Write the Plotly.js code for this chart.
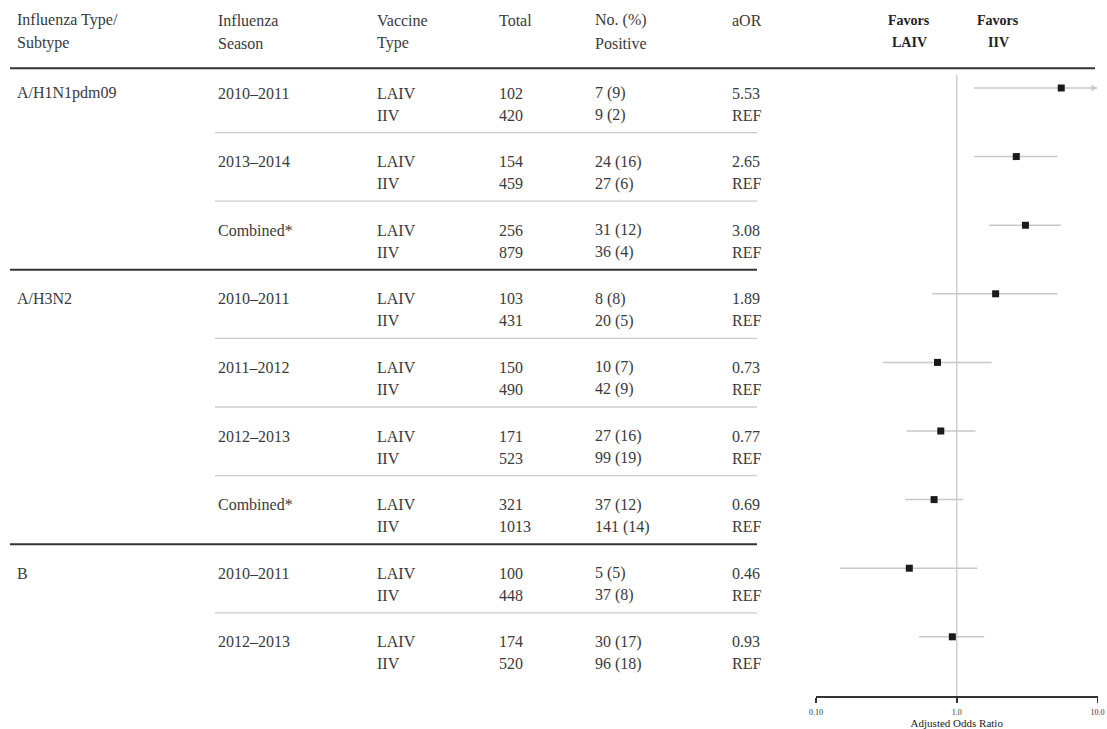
<!DOCTYPE html>
<html>
<head>
<meta charset="utf-8">
<script src="https://cdn.plot.ly/plotly-3.0.1.min.js"></script>
<style>html,body{margin:0;padding:0;background:#fff;}#chart{width:1107px;height:729px;}</style>
</head>
<body>
<div id="chart"></div>
<script>
// ---- data ----
const groupNames = ['A/H1N1pdm09', '', '', 'A/H3N2', '', '', '', 'B', ''];
const seasons = ['2010\u20132011', '2013\u20132014', 'Combined*', '2010\u20132011', '2011\u20132012', '2012\u20132013', 'Combined*', '2010\u20132011', '2012\u20132013'];
const vaccineTypes = ['LAIV', 'IIV'];
const laivTotal = [102, 154, 256, 103, 150, 171, 321, 100, 174];
const iivTotal = [420, 459, 879, 431, 490, 523, 1013, 448, 520];
const laivPos = [7, 24, 31, 8, 10, 27, 37, 5, 30];
const laivPct = [9, 16, 12, 8, 7, 16, 12, 5, 17];
const iivPos = [9, 27, 36, 20, 42, 99, 141, 37, 96];
const iivPct = [2, 6, 4, 5, 9, 19, 14, 8, 18];
const aOR = [5.53, 2.65, 3.08, 1.89, 0.73, 0.77, 0.69, 0.46, 0.93];
const ciLow = [1.33, 1.33, 1.70, 0.67, 0.30, 0.44, 0.43, 0.148, 0.54];
const ciHigh = [14.0, 5.2, 5.5, 5.2, 1.77, 1.36, 1.11, 1.40, 1.57];
const headers = [['Influenza Type/', 'Subtype'], ['Influenza', 'Season'], ['Vaccine', 'Type'], ['Total', ''], ['No. (%)', 'Positive'], ['aOR', '']];
const tickVals = [0.1, 1, 10];
const tickText = ['0.10', '1.0', '10.0'];
const axisTitle = 'Adjusted Odds Ratio';
const favors = [['Favors', 'LAIV'], ['Favors', 'IIV']];
const groupEnds = [2, 6]; // blocks after which a heavy rule is drawn

// ---- layout constants ----
const W = 1107, H = 729;
const rowTop = 88, rowStep = 68.6;
const pxToV = px => (px - rowTop) / rowStep;
const colX = [15, 216, 375, 497, 593, 730].map(x => x / W);
const font = {family: 'Liberation Serif, Times New Roman, serif', size: 16, color: '#3a3a3a'};
const n = aOR.length;
const rowIdx = aOR.map((_, i) => i);

const annotations = [];
const addText = (x, v, text, extra) => annotations.push(Object.assign({
  xref: 'paper', yref: 'y', x: x, y: v, text: text, showarrow: false,
  xanchor: 'left', yanchor: 'middle', font: font
}, extra || {}));

// headers
headers.forEach((h, c) => {
  addText(colX[c], pxToV(20), h[0]);
  if (h[1]) addText(colX[c], pxToV(43), h[1]);
});
// favors labels
const favX = [909 / W, 998 / W];
favors.forEach((f, k) => {
  const ff = {family: font.family, size: 14, color: '#222', weight: 'bold'};
  addText(favX[k], pxToV(20), '<b>' + f[0] + '</b>', {xanchor: 'center', font: ff});
  addText(favX[k], pxToV(42), '<b>' + f[1] + '</b>', {xanchor: 'center', font: ff});
});
// body rows
const dL = 5 / rowStep, dI = 27 / rowStep;
for (let i = 0; i < n; i++) {
  if (groupNames[i]) addText(colX[0], i + dL, groupNames[i]);
  addText(colX[1], i + dL, seasons[i]);
  addText(colX[2], i + dL, vaccineTypes[0]);
  addText(colX[2], i + dI, vaccineTypes[1]);
  addText(colX[3], i + dL, String(laivTotal[i]));
  addText(colX[3], i + dI, String(iivTotal[i]));
  addText(colX[4], i + dL, laivPos[i] + ' (' + laivPct[i] + ')');
  addText(colX[4], i + dI, iivPos[i] + ' (' + iivPct[i] + ')');
  addText(colX[5], i + dL, aOR[i].toFixed(2));
  addText(colX[5], i + dI, 'REF');
}
// arrow for CIs running off the scale
const xMax = tickVals[tickVals.length - 1];
ciHigh.forEach((hi, i) => {
  if (hi > xMax) annotations.push({
    xref: 'x', yref: 'y', x: Math.log10(xMax), y: i, ax: -9, ay: 0, text: '',
    showarrow: true, arrowhead: 2, arrowsize: 0.9, arrowwidth: 1.3, arrowcolor: '#c8c8c8', standoff: 0
  });
});

// rules
const shapes = [];
const hline = (x0, x1, v, color, w) => shapes.push({type: 'line', xref: 'paper', yref: 'y',
  x0: x0 / W, x1: x1 / W, y0: v, y1: v, line: {color: color, width: w}});
hline(10, 1095, pxToV(68.3), '#333333', 2);
for (let i = 0; i < n - 1; i++) {
  if (groupEnds.includes(i)) hline(10, 757, i + 0.65, '#333333', 2);
  else hline(215, 757, i + 0.65, '#cccccc', 1.3);
}

// traces
const ciX = [], ciY = [];
for (let i = 0; i < n; i++) { ciX.push(ciLow[i], Math.min(ciHigh[i], xMax), null); ciY.push(i, i, null); }

const traces = [
  {type: 'scatter', mode: 'lines', x: [1, 1], y: [pxToV(75), pxToV(696)],
   line: {color: '#d0d0d0', width: 1.5}, hoverinfo: 'skip', showlegend: false, cliponaxis: false},
  {type: 'scatter', mode: 'lines', x: ciX, y: ciY, connectgaps: false,
   line: {color: '#c8c8c8', width: 1.5}, hoverinfo: 'skip', showlegend: false},
  {type: 'scatter', mode: 'markers', x: aOR, y: rowIdx,
   marker: {symbol: 'square', size: 7, color: '#1a1a1a'}, showlegend: false}
];

const layout = {
  width: W, height: H,
  margin: {l: 0, r: 0, t: 0, b: 0},
  paper_bgcolor: '#ffffff', plot_bgcolor: 'rgba(0,0,0,0)',
  showlegend: false,
  xaxis: {
    type: 'log', domain: [816 / W, 1097.5 / W], range: [-1.0005, 1.0005],
    anchor: 'free', position: 1 - 696 / H,
    showgrid: false, zeroline: false, showline: true, linecolor: '#333333', linewidth: 1.6,
    ticks: 'outside', ticklen: 5, tickwidth: 1.6, tickcolor: '#333333',
    tickvals: tickVals, ticktext: tickText, ticklabelstandoff: 3, ticklabeloverflow: 'allow',
    tickfont: {family: font.family, size: 8, color: '#333'},
    title: {text: axisTitle, font: {family: font.family, size: 11, color: '#222'}, standoff: 2},
    automargin: false, fixedrange: true
  },
  yaxis: {
    domain: [0, 1], range: [pxToV(H), pxToV(0)], visible: false, fixedrange: true
  },
  annotations: annotations,
  shapes: shapes
};

Plotly.newPlot('chart', traces, layout, {staticPlot: true, displayModeBar: false});
</script>
</body>
</html>
